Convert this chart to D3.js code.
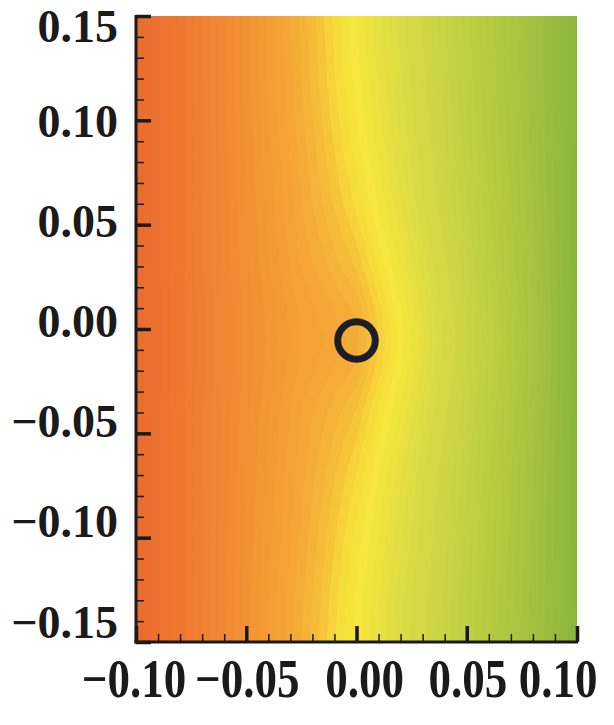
<!DOCTYPE html>
<html><head><meta charset="utf-8">
<script src="https://cdn.jsdelivr.net/npm/d3@7"></script>
<style>body{margin:0;background:#fff}svg{display:block}</style>
</head><body>
<svg id="c" width="614" height="725"></svg>
<script>
// ---- data ----
const gridX = [-0.10, -0.075, -0.05, -0.025, 0.00, 0.025, 0.05, 0.075, 0.10];
const gridY = [0.15, 0.12, 0.09, 0.06, 0.03, 0.01, -0.005, -0.02, -0.04, -0.07, -0.10, -0.13, -0.15];
// colour level (0 = left edge orange-red, 1 = right edge green) at each grid node, one row per gridY
const levelRows = [
  [0, 0.125, 0.25, 0.375, 0.50, 0.625, 0.75, 0.875, 1],
  [0, 0.125, 0.25, 0.37, 0.49, 0.615, 0.745, 0.875, 1],
  [0, 0.125, 0.245, 0.36, 0.475, 0.60, 0.735, 0.87, 1],
  [0, 0.125, 0.24, 0.35, 0.45, 0.58, 0.72, 0.86, 1],
  [0, 0.125, 0.235, 0.335, 0.41, 0.55, 0.70, 0.85, 1],
  [0, 0.12, 0.23, 0.32, 0.375, 0.53, 0.685, 0.84, 1],
  [0, 0.12, 0.23, 0.315, 0.36, 0.52, 0.68, 0.835, 1],
  [0, 0.12, 0.23, 0.32, 0.375, 0.53, 0.685, 0.84, 1],
  [0, 0.125, 0.235, 0.335, 0.41, 0.55, 0.70, 0.85, 1],
  [0, 0.125, 0.24, 0.345, 0.445, 0.58, 0.72, 0.86, 1],
  [0, 0.125, 0.245, 0.355, 0.47, 0.595, 0.73, 0.865, 1],
  [0, 0.125, 0.25, 0.365, 0.485, 0.61, 0.74, 0.87, 1],
  [0, 0.125, 0.25, 0.37, 0.49, 0.615, 0.745, 0.875, 1]
];
const rampLevels = [0, 0.10, 0.25, 0.35, 0.41, 0.45, 0.49, 0.53, 0.59, 0.66, 0.74, 0.89, 1.0];
const rampColors = ["#EB6B2F", "#EE7831", "#F29234", "#F5A836", "#F6C038", "#F7DC3B", "#F7E63D", "#EDE23F", "#DCDC44", "#CFD643", "#C2CF43", "#A5C23F", "#8BB53C"];
const xTickValues = [-0.10, -0.05, 0.00, 0.05, 0.10];
const xTickLabels = ["\u22120.10", "\u22120.05", "0.00", "0.05", "0.10"];
const yTickValues = [0.15, 0.10, 0.05, 0.00, -0.05, -0.10, -0.15];
const yTickLabels = ["0.15", "0.10", "0.05", "0.00", "\u22120.05", "\u22120.10", "\u22120.15"];
const circleCenter = [0.0, -0.0055];
const circleRadius = 0.009;

// ---- layout ----
const L = 136, R = 577, T = 16, B = 642;
const svg = d3.select("#c");
const x = d3.scaleLinear().domain([-0.10, 0.10]).range([L, R]);
const y = d3.scaleLinear().domain([-0.15, 0.15]).range([B, T]);
const color = d3.scaleLinear().domain(rampLevels).range(rampColors).interpolate(d3.interpolateRgb).clamp(true);

function field(xv, yv) {
  let i = d3.bisectRight(gridX, xv) - 1; i = Math.max(0, Math.min(gridX.length - 2, i));
  let j = 0; while (j < gridY.length - 2 && yv < gridY[j + 1]) j++;
  const tx = Math.max(0, Math.min(1, (xv - gridX[i]) / (gridX[i + 1] - gridX[i])));
  const ty = Math.max(0, Math.min(1, (yv - gridY[j]) / (gridY[j + 1] - gridY[j])));
  const a = levelRows[j][i], b = levelRows[j][i + 1], c = levelRows[j + 1][i], d = levelRows[j + 1][i + 1];
  return (a * (1 - tx) + b * tx) * (1 - ty) + (c * (1 - tx) + d * tx) * ty;
}

const nx = 221, ny = 313;
const sx = (R - L) / nx, sy = (B - T) / ny;
const values = new Array(nx * ny);
for (let j = 0; j < ny; j++) for (let i = 0; i < nx; i++) {
  values[j * nx + i] = field(x.invert(L + (i + 0.5) * sx), y.invert(T + (j + 0.5) * sy));
}
const step = 1 / 54;
const thresholds = d3.range(step, 1, step);
const contours = d3.contours().size([nx, ny]).thresholds(thresholds)(values);
const proj = d3.geoTransform({point(px, py) { this.stream.point(L + px * sx, T + py * sy); }});
const path = d3.geoPath(proj);

svg.append("clipPath").attr("id", "clip").append("rect").attr("x", L).attr("y", T).attr("width", R - L).attr("height", B - T);
const g = svg.append("g").attr("clip-path", "url(#clip)");
g.append("rect").attr("x", L).attr("y", T).attr("width", R - L).attr("height", B - T).attr("fill", color(step / 2));
g.selectAll("path.band").data(contours).join("path").attr("class", "band")
  .attr("d", path).attr("fill", d => color(d.value + step / 2)).attr("stroke", d => color(d.value + step / 2)).attr("stroke-width", 0.6);

// circle
svg.append("circle").attr("cx", x(circleCenter[0])).attr("cy", y(circleCenter[1]))
  .attr("r", y(0) - y(circleRadius)).attr("fill", "none").attr("stroke", "#1b1f25").attr("stroke-width", 7);

// axes
const ink = "#1a1a1a";
const minorX = d3.range(-10, 11).map(v => v / 100);
const minorY = d3.range(-15, 16).map(v => v / 100);
const axL = svg.append("g").attr("transform", `translate(${L},0)`);
axL.call(d3.axisLeft(y).tickValues(minorY).tickSize(-8).tickSizeOuter(0).tickFormat(""));
axL.selectAll(".tick line").attr("stroke", ink).attr("stroke-width", 1.5);
axL.select(".domain").remove();
const axL2 = svg.append("g").attr("transform", `translate(${L},0)`);
axL2.call(d3.axisLeft(y).tickValues(yTickValues).tickSize(-15).tickSizeOuter(0).tickFormat(""));
axL2.selectAll(".tick line").attr("stroke", ink).attr("stroke-width", 3.5);
axL2.select(".domain").remove();

const axB = svg.append("g").attr("transform", `translate(0,${B})`);
axB.call(d3.axisBottom(x).tickValues(minorX).tickSize(-8).tickSizeOuter(0).tickFormat(""));
axB.selectAll(".tick line").attr("stroke", ink).attr("stroke-width", 1.5);
axB.select(".domain").remove();
const axB2 = svg.append("g").attr("transform", `translate(0,${B})`);
axB2.call(d3.axisBottom(x).tickValues(xTickValues).tickSize(-16).tickSizeOuter(0).tickFormat(""));
axB2.selectAll(".tick line").attr("stroke", ink).attr("stroke-width", 3.5);
axB2.select(".domain").remove();

svg.append("line").attr("x1", L).attr("x2", L).attr("y1", T - 1).attr("y2", B + 1.5).attr("stroke", ink).attr("stroke-width", 3);
svg.append("line").attr("x1", L - 1.5).attr("x2", R + 1).attr("y1", B).attr("y2", B).attr("stroke", ink).attr("stroke-width", 3);

// tick labels
const font = "'Liberation Serif', 'Times New Roman', serif";
const yLabelPos = d3.scaleLinear().domain([0.15, -0.15]).range([21, 622]);
svg.selectAll("text.yl").data(yTickValues).join("text").attr("class", "yl")
  .attr("x", 118).attr("y", (d, i) => Math.max(yLabelPos(d), i === 0 ? 26 : 0)).attr("dy", "0.34em")
  .attr("text-anchor", "end").attr("font-family", font).attr("font-weight", "bold").attr("font-size", 46)
  .attr("fill", ink).text((d, i) => yTickLabels[i]);
const xLabelShift = [-2, 1, 8, 1, -19];
svg.selectAll("text.xl").data(xTickValues).join("text").attr("class", "xl")
  .attr("transform", (d, i) => `translate(${x(d) + xLabelShift[i]},697) scale(1,1.2)`)
  .attr("text-anchor", "middle").attr("font-family", font).attr("font-weight", "bold").attr("font-size", 45)
  .attr("fill", ink).text((d, i) => xTickLabels[i]);
</script>
</body></html>
